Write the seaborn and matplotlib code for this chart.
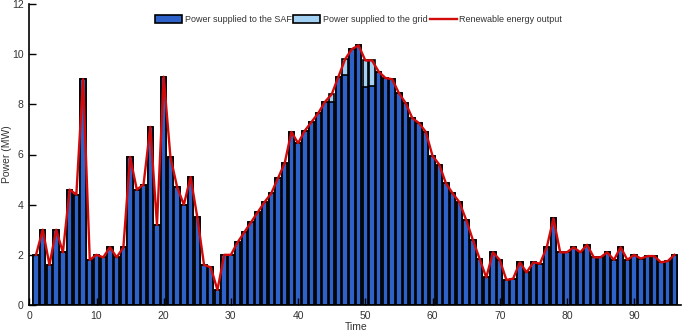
import numpy as np
import pandas as pd
import seaborn as sns
import matplotlib
matplotlib.use("Agg")
import matplotlib.pyplot as plt
from matplotlib.patches import Patch
from matplotlib.lines import Line2D

# renewable output (MW) for time steps 1..96
renewable = [2.0, 3.0, 1.6, 3.0, 2.1, 4.6, 4.4, 9.0, 1.8, 2.0,
             1.9, 2.3, 1.9, 2.3, 5.9, 4.6, 4.8, 7.1, 3.2, 9.1,
             5.9, 4.7, 4.0, 5.1, 3.5, 1.6, 1.5, 0.6, 2.0, 2.0,
             2.5, 2.9, 3.3, 3.7, 4.1, 4.45, 5.05, 5.65, 6.9, 6.45,
             6.95, 7.3, 7.65, 8.1, 8.4, 9.1, 9.8, 10.2, 10.35, 9.75,
             9.75, 9.3, 9.05, 9.0, 8.45, 8.05, 7.45, 7.25, 6.9, 5.95,
             5.6, 4.85, 4.45, 4.1, 3.4, 2.6, 1.85, 1.1, 2.1, 1.8,
             1.0, 1.05, 1.7, 1.3, 1.7, 1.65, 2.3, 3.45, 2.1, 2.1,
             2.3, 2.1, 2.4, 1.9, 1.9, 2.1, 1.8, 2.3, 1.8, 2.0,
             1.85, 1.95, 1.95, 1.7, 1.75, 2.0]

# surplus sent to the grid (only a few steps near midday)
grid_steps = [45, 47, 50, 51]
grid_values = [0.3, 0.65, 1.05, 1.0]

time = np.arange(1, len(renewable) + 1)
grid = np.zeros(len(renewable))
for t, g in zip(grid_steps, grid_values):
    grid[t - 1] = g
total = np.array(renewable)
saf = total - grid

df = pd.DataFrame({'time': time, 'saf': saf, 'total': total})

blue = '#2F62C8'
light_blue = '#A3D1F3'
red = '#D10A0A'

plt.rcParams['font.family'] = ['Liberation Sans', 'DejaVu Sans']

fig = plt.figure(figsize=(6.85, 3.34), dpi=100)
ax = fig.add_axes([29.3 / 685, 1 - 305 / 334, 97 * 6.72 / 685, 301 / 334])

sns.barplot(data=df, x='time', y='total', native_scale=True, color=light_blue,
            saturation=1, edgecolor='black', linewidth=1.2, width=0.8,
            errorbar=None, ax=ax)
sns.barplot(data=df, x='time', y='saf', native_scale=True, color=blue,
            saturation=1, edgecolor='black', linewidth=1.2, width=0.8,
            errorbar=None, ax=ax)
sns.lineplot(data=df, x='time', y='total', color=red, linewidth=1.7, ax=ax)

ax.set_xlim(0, 97)
ax.set_ylim(0, 12)
ax.set_xticks(range(0, 100, 10))
ax.set_yticks(range(0, 13, 2))
ax.tick_params(direction='in', length=5, width=1, labelsize=7.5,
               labelcolor='#333333')
ax.tick_params(axis='x', pad=4)
ax.tick_params(axis='y', pad=4)
for s in ['top', 'right']:
    ax.spines[s].set_visible(False)
for s in ['left', 'bottom']:
    ax.spines[s].set_linewidth(1.2)
ax.set_xlabel('Time', fontsize=7.5, color='#333333')
ax.set_ylabel('Power (MW)', fontsize=7.5, color='#333333', va='center')
ax.xaxis.set_label_coords(0.501, -0.055)
ax.yaxis.set_label_coords(-0.034, 0.5)

handles = [Patch(facecolor=blue, edgecolor='black', linewidth=1.2),
           Patch(facecolor=light_blue, edgecolor='black', linewidth=1.2),
           Line2D([], [], color=red, linewidth=1.7)]
labels = ['Power supplied to the SAF', 'Power supplied to the grid',
          'Renewable energy output']
ax.legend(handles, labels, loc='upper center', bbox_to_anchor=(0.505, 0.99),
          ncol=3, frameon=False, fontsize=6.5, handlelength=3.0,
          handleheight=1.0, handletextpad=0.3, columnspacing=0.2,
          labelcolor='#333333')

fig.savefig('out.png', dpi=100)
